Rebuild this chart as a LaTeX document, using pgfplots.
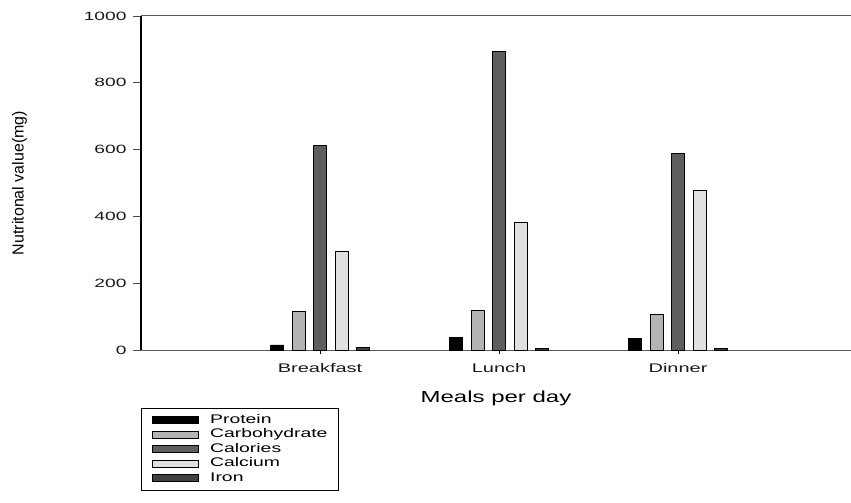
\documentclass[border=0pt]{standalone}
\usepackage{fontspec}
\usepackage{pgfplots}
\pgfplotsset{compat=1.18}
\setmainfont{Liberation Sans}
\newfontfamily\tickfont{Liberation Sans}[FakeStretch=1.6]
\newfontfamily\xlabfont{Liberation Sans}[FakeStretch=1.5]
\newfontfamily\legfont{Liberation Sans}[FakeStretch=1.55]
\definecolor{cProt}{HTML}{000000}
\definecolor{cCarb}{HTML}{B4B4B4}
\definecolor{cCal}{HTML}{5E5E5E}
\definecolor{cCa}{HTML}{E0E0E0}
\definecolor{cFe}{HTML}{404040}
\begin{document}
\begin{tikzpicture}
\useasboundingbox (-141pt,-153pt) rectangle (710pt,350pt);
\begin{axis}[
  at={(0,0)}, anchor=south west,
  scale only axis, width=710pt, height=334pt,
  xmin=0, xmax=3.966, ymin=0, ymax=1000,
  axis x line=box, axis y line=left,
  axis line style={-},
  x axis line style={color=black!65, line width=1pt},
  y axis line style={color=black, line width=1.2pt},
  xtick={1,2,3}, xticklabels={Breakfast,Lunch,Dinner},
  ytick={0,200,400,600,800,1000},
  xtick pos=bottom, ytick pos=left,
  tick align=outside, major tick length=8pt,
  xtick style={black, line width=0.8pt, /pgfplots/major tick length=4pt},
  ytick style={black!70, line width=0.8pt},
  /pgf/number format/assume math mode=true,
  /pgf/number format/1000 sep={},
  yticklabel style={font=\tickfont\fontsize{12}{14}\selectfont, text=black!90, xshift=-3pt},
  xticklabel style={font=\tickfont\fontsize{12.5}{14}\selectfont, text=black!90, yshift=-2pt},
  xlabel={Meals per day},
  xlabel style={font=\xlabfont\fontsize{16}{18}\selectfont, at={(axis description cs:0.5,0)}, anchor=center, yshift=-48pt},
  ylabel={Nutritonal value(mg)},
  ylabel style={font=\fontsize{16}{18}\selectfont, at={(axis description cs:-0.171,0.5)}, anchor=center},
  ybar=8.5pt, bar width=13pt,
  every axis plot/.append style={draw=black, line width=0.5pt},
  legend cell align=left,
  legend image code/.code={\draw[#1, line width=0.7pt] (0pt,-3.5pt) rectangle (46pt,3.5pt);},
  legend style={at={(rel axis cs:0,0)}, anchor=north west, yshift=-58pt,
    draw=black, line width=0.9pt, inner xsep=11pt, inner ysep=6pt,
    font=\legfont\fontsize{12.5}{13}\selectfont,
    nodes={inner sep=0pt, text height=9pt, text depth=2.5pt},
    row sep=3pt},
]
\addplot[fill=cProt] coordinates {(1,15) (2,37) (3,35)};
\addplot[fill=cCarb] coordinates {(1,115) (2,118) (3,107)};
\addplot[fill=cCal] coordinates {(1,612) (2,893) (3,589)};
\addplot[fill=cCa] coordinates {(1,295) (2,381) (3,478)};
\addplot[fill=cFe] coordinates {(1,7) (2,5) (3,5)};
\legend{\hspace{11pt}Protein,\hspace{11pt}Carbohydrate,\hspace{11pt}Calories,\hspace{11pt}Calcium,\hspace{11pt}Iron}
\end{axis}
\end{tikzpicture}
\end{document}
